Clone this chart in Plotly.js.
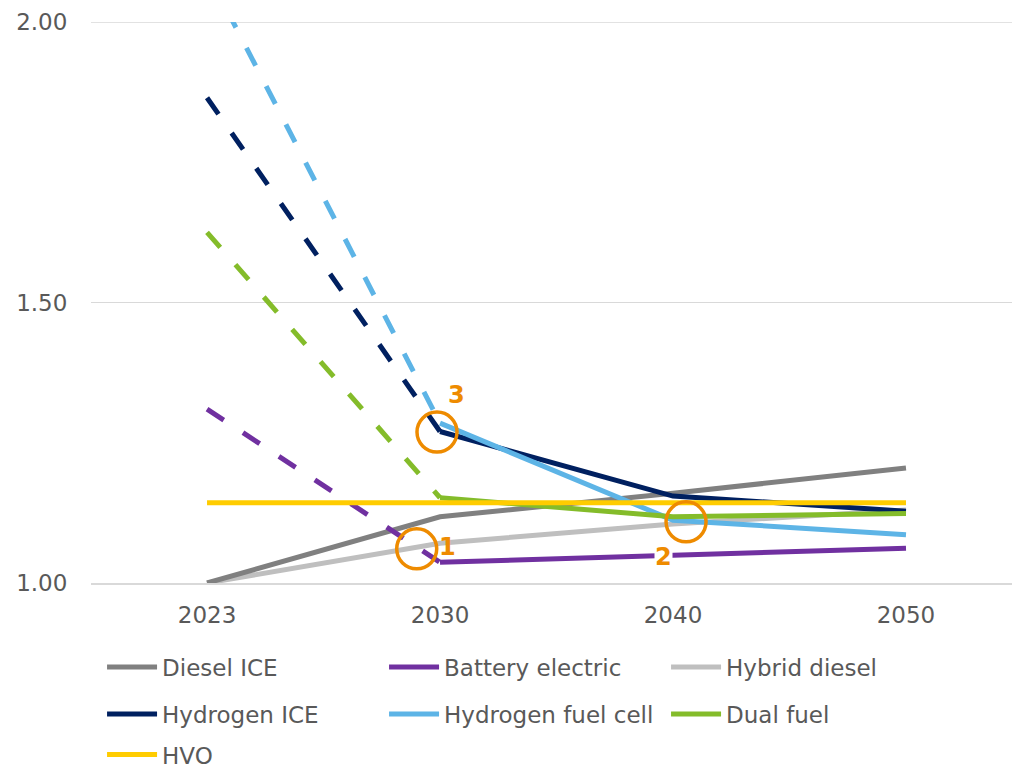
<!DOCTYPE html>
<html>
<head>
<meta charset="utf-8">
<script src="https://cdn.plot.ly/plotly-3.0.1.min.js"></script>
<style>html,body{margin:0;padding:0;background:#fff;}#chart{width:1012px;height:769px;}</style>
</head>
<body>
<div id="chart"></div>
<script>
// ---- data ----
var years = ['2023', '2030', '2040', '2050'];
var seriesNames = ['Diesel ICE', 'Battery electric', 'Hybrid diesel', 'Hydrogen ICE', 'Hydrogen fuel cell', 'Dual fuel', 'HVO'];
var dieselICE        = [1.000, 1.118, 1.160, 1.205];
var batteryElectric  = [1.310, 1.037, 1.050, 1.062];
var hybridDiesel     = [1.000, 1.071, 1.105, 1.130];
var hydrogenICE      = [1.865, 1.270, 1.155, 1.128];
var hydrogenFuelCell = [2.090, 1.285, 1.112, 1.086];
var dualFuel         = [1.625, 1.152, 1.118, 1.124];
var hvo              = [1.143, 1.143, 1.143, 1.143];
// series whose 2023->2030 segment is drawn dashed
var dashedFirstSegment = ['Battery electric', 'Hydrogen ICE', 'Hydrogen fuel cell', 'Dual fuel'];
// callouts (circle centres in axis units: category index, value)
var calloutLabels = ['1', '2', '3'];
var calloutX = [0.90, 2.056, 0.987];
var calloutY = [1.061, 1.109, 1.269];
var yTickVals = [1.0, 1.5, 2.0];

// ---- styling ----
var values = {
  'Diesel ICE': dieselICE, 'Battery electric': batteryElectric, 'Hybrid diesel': hybridDiesel,
  'Hydrogen ICE': hydrogenICE, 'Hydrogen fuel cell': hydrogenFuelCell, 'Dual fuel': dualFuel, 'HVO': hvo
};
var colors = {
  'Diesel ICE': '#808080', 'Battery electric': '#7030A0', 'Hybrid diesel': '#BFBFBF',
  'Hydrogen ICE': '#002060', 'Hydrogen fuel cell': '#5DB4E6', 'Dual fuel': '#84BC2A', 'HVO': '#FFCC00'
};
var legendOf = {
  'Diesel ICE': 'legend', 'Battery electric': 'legend', 'Hybrid diesel': 'legend',
  'Hydrogen ICE': 'legend2', 'Hydrogen fuel cell': 'legend2', 'Dual fuel': 'legend2', 'HVO': 'legend3'
};
var drawOrder = ['Hybrid diesel', 'Diesel ICE', 'Battery electric', 'Hydrogen ICE', 'Hydrogen fuel cell', 'Dual fuel', 'HVO'];
var LW = 5;
var traces = [];
drawOrder.forEach(function (name) {
  var v = values[name];
  var rank = seriesNames.indexOf(name) + 1;
  if (dashedFirstSegment.indexOf(name) >= 0) {
    traces.push({
      type: 'scatter', mode: 'lines', x: years.slice(0, 2), y: v.slice(0, 2),
      line: {color: colors[name], width: LW, dash: '20px,23px'},
      showlegend: false, hoverinfo: 'skip', name: name
    });
    traces.push({
      type: 'scatter', mode: 'lines', x: years.slice(1), y: v.slice(1),
      line: {color: colors[name], width: LW}, name: name, legend: legendOf[name], legendrank: rank
    });
  } else {
    traces.push({
      type: 'scatter', mode: 'lines', x: years, y: v,
      line: {color: colors[name], width: LW}, name: name, legend: legendOf[name], legendrank: rank
    });
  }
});

var orange = '#EE8B00';
var shapes = [{
  type: 'line', xref: 'paper', yref: 'y', x0: 0, x1: 1, y0: yTickVals[2], y1: yTickVals[2],
  line: {color: '#D9D9D9', width: 1.5}, layer: 'below'
}];
var annotations = [];
var labelShift = [[31, 2], [-23, -35], [20, 37]];
calloutLabels.forEach(function (lab, i) {
  shapes.push({
    type: 'circle', xref: 'x', yref: 'y', xsizemode: 'pixel', ysizemode: 'pixel',
    xanchor: calloutX[i], yanchor: calloutY[i], x0: -20, x1: 20, y0: -20, y1: 20,
    line: {color: orange, width: 3.5}, fillcolor: 'rgba(0,0,0,0)'
  });
  annotations.push({
    xref: 'x', yref: 'y', x: calloutX[i], y: calloutY[i], text: '<b>' + lab + '</b>', showarrow: false,
    xshift: labelShift[i][0], yshift: labelShift[i][1],
    font: {family: 'DejaVu Sans', size: 24, color: orange},
    bgcolor: i === 1 ? '#ffffff' : 'rgba(0,0,0,0)', borderpad: 0
  });
});

var legendFont = {family: 'DejaVu Sans', size: 23, color: '#595959'};
function legendAt(y) {
  return {orientation: 'h', x: 0.012, xanchor: 'left', y: y, yanchor: 'middle',
    font: legendFont, entrywidth: 217, itemwidth: 50, bgcolor: 'rgba(0,0,0,0)', traceorder: 'normal'};
}

var tickFont = {family: 'DejaVu Sans', size: 23, color: '#595959'};
var layout = {
  width: 1012, height: 769,
  margin: {l: 91, r: 0, t: 22, b: 186, autoexpand: false},
  paper_bgcolor: '#ffffff', plot_bgcolor: '#ffffff',
  font: {family: 'DejaVu Sans', color: '#595959'},
  xaxis: {
    type: 'category', range: [-0.498, 3.455], showgrid: false, zeroline: false,
    showline: true, linecolor: '#D9D9D9', linewidth: 1.5,
    ticks: 'outside', ticklen: 11, tickcolor: 'rgba(0,0,0,0)', tickfont: tickFont, automargin: false
  },
  yaxis: {
    range: [1.0, 2.0], tickvals: yTickVals, tickformat: '.2f',
    showgrid: true, gridcolor: '#D9D9D9', gridwidth: 1.5, zeroline: false, showline: false,
    ticks: 'outside', ticklen: 18, tickcolor: 'rgba(0,0,0,0)', tickfont: tickFont, automargin: false
  },
  showlegend: true,
  legend: legendAt(-0.150),
  legend2: legendAt(-0.2335),
  legend3: legendAt(-0.306),
  shapes: shapes,
  annotations: annotations
};

Plotly.newPlot('chart', traces, layout, {displayModeBar: false, staticPlot: true});
</script>
</body>
</html>
